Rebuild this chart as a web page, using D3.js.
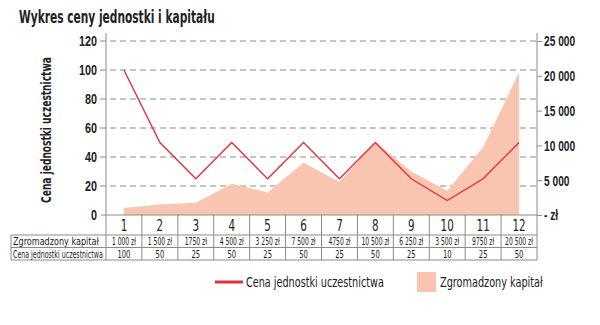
<!DOCTYPE html>
<html><head><meta charset="utf-8">
<script src="https://cdn.jsdelivr.net/npm/d3@7"></script>
<style>
body{margin:0;background:#fff;}
svg{display:block;font-family:"DejaVu Sans Condensed","DejaVu Sans",sans-serif;}
</style></head><body>
<svg id="c" width="600" height="325"></svg>
<script>
const categories = ["1","2","3","4","5","6","7","8","9","10","11","12"];
const capital = [1000,1500,1750,4500,3250,7500,4750,10500,6250,3500,9750,20500];
const price = [100,50,25,50,25,50,25,50,25,10,25,50];
const capitalLabels = ["1 000 zł","1 500 zł","1750 zł","4 500 zł","3 250 zł","7 500 zł","4750 zł","10 500 zł","6 250 zł","3 500 zł","9750 zł","20 500 zł"];
const leftTicks = [0,20,40,60,80,100,120];
const rightTicks = [0,5000,10000,15000,20000,25000];
const title = "Wykres ceny jednostki i kapitału";
const yTitle = "Cena jednostki uczestnictwa";
const rowLabels = ["Zgromadzony kapitał","Cena jednostki uczestnictwa"];
const legendLabels = ["Cena jednostki uczestnictwa","Zgromadzony kapitał"];

const svg = d3.select("#c");
const X0 = 106, X1 = 537, Y0 = 215, YT = 41;
const x = d3.scaleBand().domain(categories).range([X0, X1]);
const yL = d3.scaleLinear().domain([0,120]).range([Y0, YT]);
const yR = d3.scaleLinear().domain([0,25000]).range([Y0, YT]);
const cx = c => x(c) + x.bandwidth()/2;
const gridCol = "#8a8a8a", lineCol = "#e2303c", areaCol = "#f9c5b0", txt = "#222";

// horizontally squeeze text (mimic a condensed face) with a transform
function squeeze(sel, f){
  sel.each(function(){
    const t = d3.select(this);
    const xx = +t.attr("x") || 0, yy = +t.attr("y") || 0;
    const prev = t.attr("transform") || "";
    t.attr("x",0).attr("y",0).attr("transform", `${prev} translate(${xx},${yy}) scale(${f},1)`);
  });
}
function squeezeTo(sel, w){
  sel.each(function(){
    const f = w / this.getComputedTextLength();
    squeeze(d3.select(this), f);
  });
}

// title
svg.append("text").attr("x",19).attr("y",23).attr("font-size",17).attr("font-weight","bold")
  .attr("fill",txt).text(title).call(squeezeTo,196);

// gridlines (dashed)
svg.append("g").selectAll("line").data(leftTicks.filter(d=>d>0)).join("line")
  .attr("x1",X0-6).attr("x2",X1).attr("y1",d=>yL(d)).attr("y2",d=>yL(d))
  .attr("stroke",gridCol).attr("stroke-width",1).attr("stroke-dasharray","6,4");

// area
const area = d3.area().x((d,i)=>cx(categories[i])).y0(Y0).y1(d=>yR(d));
svg.append("path").datum(capital).attr("d",area).attr("fill",areaCol);

// line
const line = d3.line().x((d,i)=>cx(categories[i])).y(d=>yL(d));
svg.append("path").datum(price).attr("d",line).attr("fill","none")
  .attr("stroke",lineCol).attr("stroke-width",1.4);

// left axis
const gL = svg.append("g").attr("transform",`translate(${X0},0)`)
  .call(d3.axisLeft(yL).tickValues(leftTicks).tickSize(0).tickPadding(9));
gL.select(".domain").remove();
gL.selectAll("text").attr("font-size",15).attr("font-weight","bold").attr("fill",txt)
  .attr("font-family","inherit").call(squeeze,0.72);
svg.append("line").attr("x1",X0).attr("x2",X0).attr("y1",33).attr("y2",260).attr("stroke",gridCol);
svg.append("line").attr("x1",X0-5).attr("x2",X1).attr("y1",Y0).attr("y2",Y0).attr("stroke",gridCol);

// right axis
const loc = d3.formatLocale({decimal:",",thousands:"\u00a0",grouping:[3],currency:["","zł"]});
const fmt = loc.format(",");
const gR = svg.append("g").attr("transform",`translate(${X1},0)`)
  .call(d3.axisRight(yR).tickValues(rightTicks).tickSize(5).tickPadding(2)
    .tickFormat(d => d===0 ? "- zł" : fmt(d)));
gR.select(".domain").remove();
gR.selectAll(".tick line").attr("stroke",gridCol);
gR.selectAll("text").attr("font-size",15).attr("font-weight","bold").attr("fill",txt)
  .attr("font-family","inherit").call(squeeze,0.68);
svg.append("line").attr("x1",X1).attr("x2",X1).attr("y1",33).attr("y2",260).attr("stroke",gridCol);

// y title
svg.append("text").attr("transform",`translate(51,130) rotate(-90)`).attr("text-anchor","middle")
  .attr("font-size",14).attr("font-weight","bold").attr("fill",txt).text(yTitle).call(squeezeTo,146);

// table
const rows = [235,247.5,260];
const tbl = svg.append("g");
rows.forEach(r => tbl.append("line").attr("x1",11).attr("x2",X1).attr("y1",r).attr("y2",r).attr("stroke",gridCol));
tbl.append("line").attr("x1",11).attr("x2",11).attr("y1",235).attr("y2",260).attr("stroke",gridCol);
tbl.selectAll(".vd").data(categories.slice(1)).join("line").attr("class","vd")
  .attr("x1",d=>x(d)).attr("x2",d=>x(d)).attr("y1",Y0).attr("y2",260).attr("stroke",gridCol);
tbl.selectAll(".hd").data(categories).join("text").attr("class","hd")
  .attr("x",d=>cx(d)).attr("y",231).attr("text-anchor","middle").attr("font-size",16).attr("fill",txt).text(d=>d)
  .call(squeeze,0.72);
tbl.selectAll(".cap").data(capitalLabels).join("text").attr("class","cap")
  .attr("x",(d,i)=>cx(categories[i])).attr("y",245).attr("text-anchor","middle").attr("font-size",10.5).attr("fill",txt)
  .text(d=>d).call(squeeze,0.64);
tbl.selectAll(".pr").data(price).join("text").attr("class","pr")
  .attr("x",(d,i)=>cx(categories[i])).attr("y",257.5).attr("text-anchor","middle").attr("font-size",10.5).attr("fill",txt)
  .text(d=>d).call(squeeze,0.72);
tbl.selectAll(".rl").data(rowLabels).join("text").attr("class","rl")
  .attr("x",13).attr("y",(d,i)=>i===0?245:257.5).attr("font-size",10.5).attr("fill",txt)
  .text(d=>d).each(function(d,i){ squeezeTo(d3.select(this), i===0?86:90); });

// legend
const lg = svg.append("g");
lg.append("line").attr("x1",215).attr("x2",243).attr("y1",282).attr("y2",282).attr("stroke",lineCol).attr("stroke-width",3);
lg.append("text").attr("x",246).attr("y",287).attr("font-size",14.5).attr("fill",txt).text(legendLabels[0]).call(squeezeTo,138);
lg.append("rect").attr("x",417).attr("y",272).attr("width",19).attr("height",20).attr("fill",areaCol);
lg.append("text").attr("x",440).attr("y",287).attr("font-size",14.5).attr("fill",txt).text(legendLabels[1]).call(squeezeTo,103);
</script></body></html>
